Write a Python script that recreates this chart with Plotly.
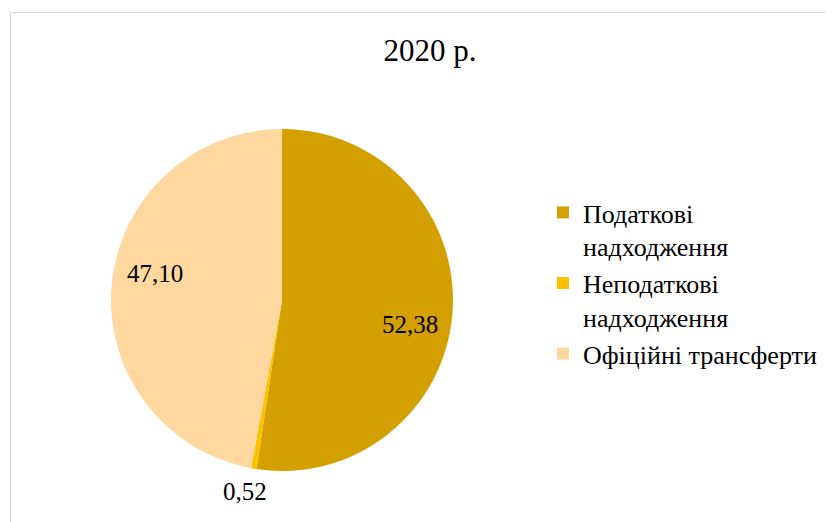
import math
import plotly.graph_objects as go

labels = ["Податкові<br>надходження", "Неподаткові<br>надходження", "Офіційні трансферти"]
values = [52.38, 0.52, 47.10]
colors = ["#D4A000", "#FFC000", "#FFD8A0"]
value_labels = ["52,38", "0,52", "47,10"]
title_text = "2020 р."

W, H = 834, 522
OFF = 8  # page body margin
FONT = "Liberation Serif"

cx, cy, R = 282 - OFF, 300 - OFF, 171

fig = go.Figure(go.Pie(
    labels=labels,
    values=values,
    sort=False,
    direction="clockwise",
    rotation=0,
    marker=dict(colors=colors, line=dict(width=0)),
    textinfo="none",
    hoverinfo="label+value",
    domain=dict(x=[(cx - R) / W, (cx + R) / W], y=[1 - (cy + R) / H, 1 - (cy - R) / H]),
))

# data labels placed by slice mid-angle
total = sum(values)
cum = 0
annotations = []
for v, t in zip(values, value_labels):
    mid = (cum + v / 2) / total * 360
    cum += v
    if v / total < 0.05:
        f, rot = 1.14, 1.5
    else:
        f, rot = 0.76, 6.5
    a = math.radians(mid + rot)
    px = cx + f * R * math.sin(a)
    py = cy - f * R * math.cos(a)
    annotations.append(dict(x=px / W, y=1 - py / H, xref="paper", yref="paper",
                            text=t, showarrow=False, xanchor="center", yanchor="middle",
                            font=dict(family=FONT, size=25, color="black")))

fig.update_layout(
    width=W, height=H,
    margin=dict(l=0, r=0, t=0, b=0),
    paper_bgcolor="white",
    font=dict(family=FONT, color="black"),
    title=dict(text=title_text, x=(430 - OFF) / W, xanchor="center", y=1 - (50 - OFF) / H, yanchor="middle",
               font=dict(family=FONT, size=31, color="black")),
    legend=dict(x=(543 - OFF) / W, y=1 - (189 - OFF) / H, xanchor="left", yanchor="top",
                font=dict(family=FONT, size=26, color="black"), valign="top",
                itemwidth=30, bgcolor="rgba(0,0,0,0)"),
    annotations=annotations,
    shapes=[dict(type="rect", xref="paper", yref="paper",
                 x0=(10.5 - OFF) / W, x1=1.02, y0=-0.02, y1=1 - (12.5 - OFF) / H,
                 line=dict(color="#D9D9D9", width=1))],
)

fig.write_html("out.html")
